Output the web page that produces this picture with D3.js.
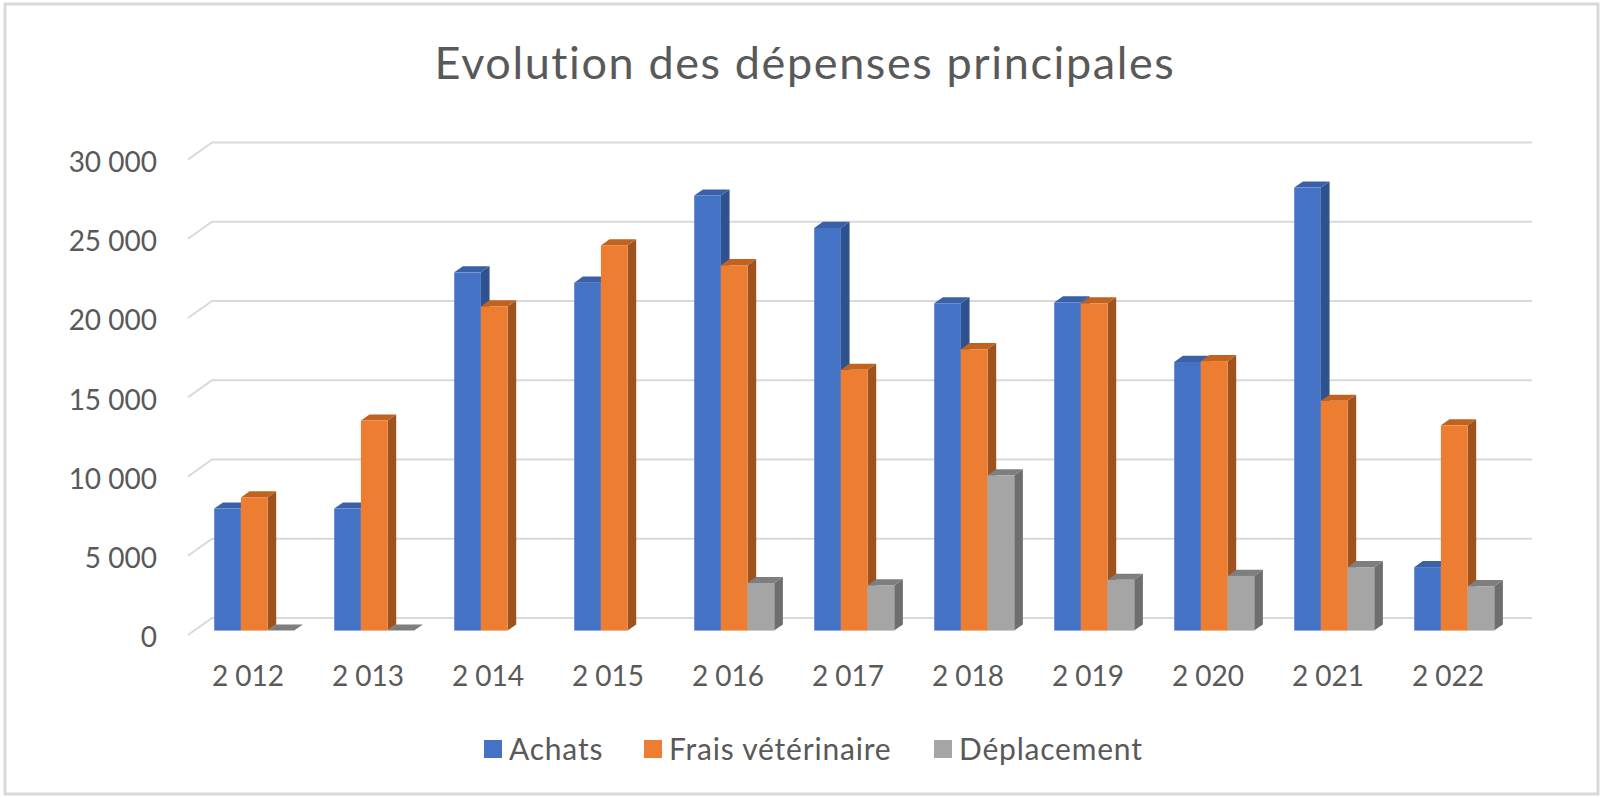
<!DOCTYPE html>
<html>
<head>
<meta charset="utf-8">
<script src="https://cdn.jsdelivr.net/npm/d3@7/dist/d3.min.js"></script>
<style>
  body { margin: 0; background: #fff; }
  text { font-family: Lato, "Open Sans", sans-serif; fill: #595959; }
</style>
</head>
<body>
<div id="chart"></div>
<script>
// data
let years = ["2 012", "2 013", "2 014", "2 015", "2 016", "2 017", "2 018", "2 019", "2 020", "2 021", "2 022"];
let seriesNames = ["Achats", "Frais vétérinaire", "Déplacement"];
let achats = [7700, 7700, 22600, 21950, 27450, 25400, 20650, 20700, 16950, 27950, 4000];
let fraisVet = [8400, 13250, 20450, 24300, 23050, 16450, 17750, 20650, 17000, 14500, 12950];
let deplacement = [0, 0, null, null, 3000, 2850, 9800, 3200, 3450, 4000, 2800];
let yTicks = [0, 5000, 10000, 15000, 20000, 25000, 30000];
let colors = ["#4472C4", "#ED7D31", "#A5A5A5"];
let sideColors = ["#2F528F", "#9E521E", "#6E6E6E"];
let topColors = ["#3A61A8", "#C1621F", "#7E7E7E"];

let width = 1604, height = 798;

// oblique 3d: depth vector from floor front edge to back wall
let depthX = 24, depthY = -17;
let zFront = 0.26, zBack = 0.62;   // where the bars sit in the depth

let svg = d3.select("#chart")
    .append("svg")
    .attr("width", width)
    .attr("height", height);

// chart border
svg.append("rect")
    .attr("x", 5).attr("y", 4)
    .attr("width", 1593).attr("height", 790)
    .attr("fill", "#fff")
    .attr("stroke", "#D9D9D9")
    .attr("stroke-width", 3);

// scales, front plane of the floor
let x = d3.scaleBand()
    .domain(years)
    .range([188, 188 + 11 * 120]);

let xSeries = d3.scaleBand()
    .domain(seriesNames)
    .range([0, x.bandwidth()])
    .paddingInner(0)
    .paddingOuter(0.75);

let y = d3.scaleLinear()
    .domain([0, 30000])
    .range([635, 159.5]);

let frLocale = d3.formatLocale({decimal: ",", thousands: " ", grouping: [3], currency: ["", " €"]});
let fmt = frLocale.format(",");

// gridlines: short diagonal on the side wall then along the back wall
let grid = svg.append("g");
yTicks.forEach(v => {
    let x0 = x.range()[0], x1 = x.range()[1];
    grid.append("polyline")
        .attr("points", [
            [x0, y(v)],
            [x0 + depthX, y(v) + depthY],
            [x1 + depthX, y(v) + depthY]
        ].map(p => p.join(",")).join(" "))
        .attr("fill", "none")
        .attr("stroke", "#D9D9D9")
        .attr("stroke-width", 2);
});

// y axis labels
let yAxis = svg.append("g")
    .attr("transform", `translate(${x.range()[0]},0)`)
    .call(d3.axisLeft(y).tickValues(yTicks).tickFormat(fmt).tickSize(0).tickPadding(31));
yAxis.select(".domain").remove();
yAxis.selectAll("text")
    .attr("dy", "0.42em")
    .style("font-size", "28px")
    .attr("fill", "#595959");

// x axis labels
let xAxis = svg.append("g")
    .attr("transform", `translate(0,${y(0)})`)
    .call(d3.axisBottom(x).tickSize(0).tickPadding(31));
xAxis.select(".domain").remove();
xAxis.selectAll("text")
    .style("font-size", "28px")
    .attr("fill", "#595959");

// bars as prisms, drawn left to right so each front face hides the previous side face
let allSeries = [achats, fraisVet, deplacement];
let bars = svg.append("g");
let pts = arr => arr.map(p => p.join(",")).join(" ");

years.forEach((yr, i) => {
    seriesNames.forEach((s, j) => {
        let v = allSeries[j][i];
        if (v === null) return;
        let bx = x(yr) + xSeries(s) + depthX * zFront;
        let bw = xSeries.bandwidth();
        let yb = y(0) + depthY * zFront;
        let yt = y(v) + depthY * zFront;
        let dx = depthX * (zBack - zFront), dy = depthY * (zBack - zFront);

        // side face
        bars.append("polygon")
            .attr("points", pts([[bx + bw, yt], [bx + bw + dx, yt + dy], [bx + bw + dx, yb + dy], [bx + bw, yb]]))
            .attr("fill", sideColors[j]);
        // top face
        bars.append("polygon")
            .attr("points", pts([[bx, yt], [bx + dx, yt + dy], [bx + bw + dx, yt + dy], [bx + bw, yt]]))
            .attr("fill", topColors[j]);
        // front face
        bars.append("rect")
            .attr("x", bx)
            .attr("y", yt)
            .attr("width", bw)
            .attr("height", yb - yt)
            .attr("fill", colors[j]);
    });
});

// title
svg.append("text")
    .attr("x", 805)
    .attr("y", 79)
    .attr("text-anchor", "middle")
    .style("font-size", "45px")
    .style("letter-spacing", "1.6px")
    .text("Evolution des dépenses principales");

// legend
let legendX = [484, 644, 934];
let legend = svg.append("g");
seriesNames.forEach((s, j) => {
    legend.append("rect")
        .attr("x", legendX[j])
        .attr("y", 740)
        .attr("width", 18)
        .attr("height", 18)
        .attr("fill", colors[j]);
    legend.append("text")
        .attr("x", legendX[j] + 25)
        .attr("y", 760)
        .style("font-size", "30px")
        .style("letter-spacing", "0.8px")
        .text(s);
});
</script>
</body>
</html>
